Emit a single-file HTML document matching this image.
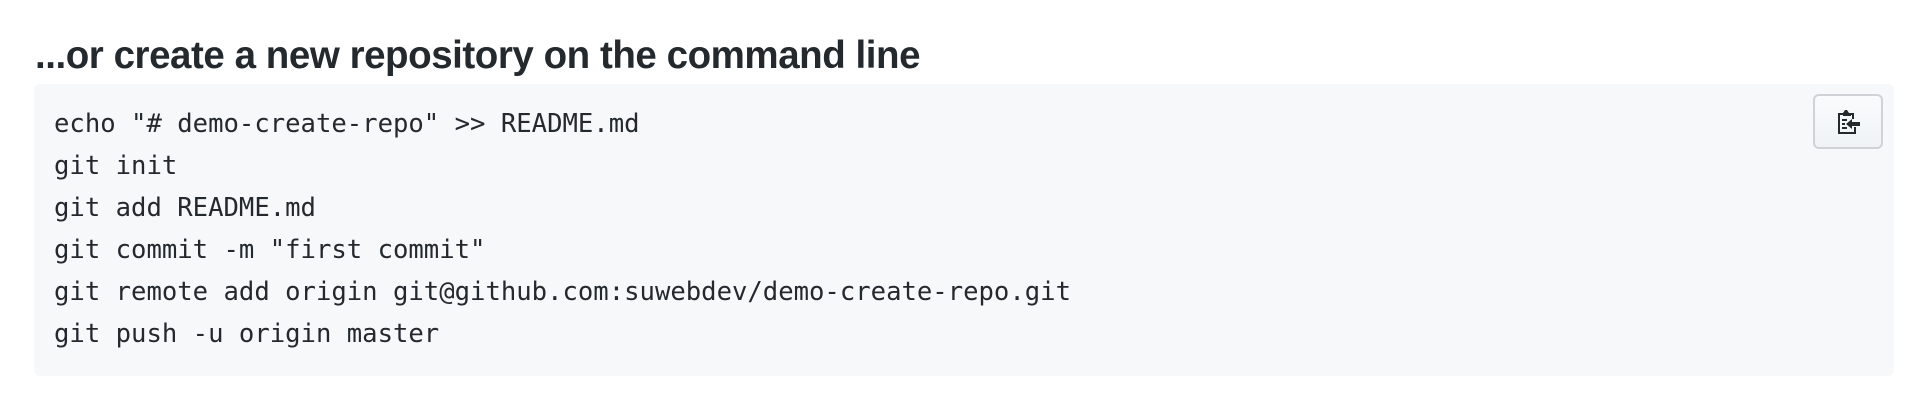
<!DOCTYPE html>
<html><head><meta charset="utf-8"><style>
html,body{margin:0;padding:0;background:#fff;width:1932px;height:404px;overflow:hidden;position:relative}
h3{position:absolute;left:35px;top:31px;margin:0;font:bold 38.5px/50px "Liberation Sans",sans-serif;color:#24292e;letter-spacing:-0.45px;white-space:nowrap}
.box{position:absolute;left:34px;top:84px;width:1860px;height:292px;background:#f6f8fa;border-radius:6px}
pre{position:absolute;left:54px;top:103px;margin:0;font:25.6px/42px "DejaVu Sans Mono","Liberation Mono",monospace;color:#24292e}
.btn{position:absolute;left:1813px;top:94px;width:66px;height:51px;border:2px solid #cfd3d7;border-radius:6px;background:linear-gradient(#fafbfc,#eff3f6)}
.btn svg{position:absolute;left:20px;top:12px}
</style></head><body>
<h3>...or create a new repository on the command line</h3>
<div class="box"></div>
<pre>echo "# demo-create-repo" &gt;&gt; README.md
git init
git add README.md
git commit -m "first commit"
git remote add origin git@github.com:suwebdev/demo-create-repo.git
git push -u origin master</pre>
<div class="btn"><svg width="28" height="28" viewBox="0 0 28 28">
<path d="M3 5h5l2-3h2l2 3h5v6h-2V7H5v17h14v-5h2v7H3z" fill="#24292e"/>
<rect x="8" y="5" width="8" height="3" fill="#24292e"/>
<rect x="7" y="11" width="5" height="2" fill="#24292e"/>
<rect x="7" y="15" width="3" height="2" fill="#24292e"/>
<rect x="7" y="19" width="5" height="2" fill="#24292e"/>
<path d="M11 16l6-5v3h8v4h-8v3z" fill="#24292e"/>
</svg></div>
</body></html>
